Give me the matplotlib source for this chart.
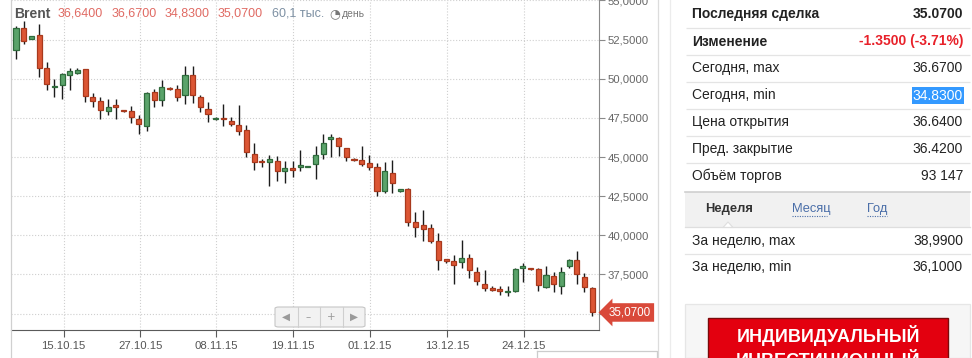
import matplotlib
matplotlib.use("Agg")
import matplotlib.pyplot as plt
from matplotlib.patches import Rectangle, FancyBboxPatch, Polygon
from matplotlib.lines import Line2D
from matplotlib.ticker import FuncFormatter

plt.rcParams['font.family'] = ['Liberation Sans', 'DejaVu Sans']

# ---------------- data ----------------
opens = [51.84, 53.26, 52.56, 52.78, 50.69, 49.45, 49.63, 50.26, 50.39, 50.62,
         48.83, 48.56, 47.96, 48.32, 47.98, 47.92, 47.41, 46.96, 49.13, 48.66,
         49.39, 49.35, 48.98, 50.24, 48.83, 48.05, 47.41, 47.47, 47.30, 47.03,
         46.71, 45.17, 44.76, 44.66, 44.73, 44.09, 44.28, 44.38, 44.34, 44.53,
         45.17, 46.13, 46.19, 45.56, 44.87, 44.79, 44.60, 44.34, 42.81, 43.98,
         42.83, 42.96, 40.83, 40.64, 40.46, 39.63, 38.46, 38.34, 38.27, 38.53,
         37.63, 36.87, 36.63, 36.57, 36.37, 36.42, 37.92, 37.92, 37.82, 36.71,
         37.38, 36.74, 38.04, 38.42, 37.33, 36.64]
highs = [53.39, 53.71, 52.76, 53.50, 51.05, 49.98, 50.34, 50.67, 50.67, 50.65,
         49.09, 48.83, 48.71, 48.71, 48.00, 48.24, 47.66, 49.13, 49.35, 49.92,
         49.45, 49.60, 50.83, 50.83, 48.98, 48.49, 47.58, 48.41, 47.56, 48.32,
         47.03, 45.88, 44.89, 45.15, 45.06, 44.76, 44.73, 45.45, 44.45, 45.70,
         46.47, 46.47, 46.30, 45.60, 44.92, 45.70, 45.11, 44.60, 44.68, 44.81,
         42.96, 43.02, 41.49, 41.61, 40.72, 40.12, 38.48, 38.74, 39.70, 38.80,
         37.95, 37.76, 36.78, 36.78, 36.74, 37.89, 38.21, 37.94, 37.89, 38.04,
         37.63, 37.95, 38.50, 38.99, 37.61, 36.67]
lows = [51.24, 52.20, 52.51, 50.13, 49.30, 48.85, 48.69, 49.30, 50.28, 48.53,
        48.21, 47.43, 47.66, 47.43, 47.90, 47.19, 46.45, 46.64, 48.18, 48.28,
        49.26, 48.58, 48.39, 48.47, 47.86, 47.26, 47.35, 47.00, 46.96, 46.42,
        45.02, 44.19, 44.38, 43.17, 43.49, 43.36, 43.74, 44.09, 44.34, 43.61,
        44.89, 45.02, 45.06, 44.76, 44.74, 44.44, 44.17, 42.51, 42.68, 42.72,
        42.79, 40.59, 39.87, 39.63, 39.52, 37.78, 38.21, 36.87, 37.89, 37.25,
        36.82, 36.46, 36.46, 36.17, 36.10, 36.38, 36.99, 37.77, 36.46, 36.63,
        36.39, 36.23, 37.89, 36.87, 36.36, 34.83]
closes = [53.22, 52.43, 52.71, 50.67, 49.68, 49.54, 50.28, 50.48, 50.56, 48.92,
          48.60, 47.98, 48.18, 48.18, 47.92, 47.54, 47.09, 49.09, 48.66, 49.45,
          49.33, 48.81, 50.24, 48.98, 48.18, 47.73, 47.49, 47.41, 47.09, 46.64,
          45.30, 44.70, 44.68, 44.85, 44.09, 44.30, 44.19, 44.47, 44.42, 45.13,
          45.88, 46.26, 45.68, 44.98, 44.79, 44.57, 44.36, 42.81, 44.09, 43.32,
          42.94, 40.83, 40.55, 40.42, 39.65, 38.40, 38.37, 38.12, 38.53, 37.76,
          37.06, 36.65, 36.52, 36.42, 36.44, 37.85, 38.03, 37.83, 36.80, 37.46,
          36.87, 37.63, 38.42, 37.50, 36.71, 35.07]

date_labels = ['15.10.15', '27.10.15', '08.11.15', '19.11.15', '01.12.15', '13.12.15', '24.12.15']
date_index = [6.2, 16.2, 26.1, 36.1, 46.1, 56.1, 66.1]
price_ticks = [35.0, 37.5, 40.0, 42.5, 45.0, 47.5, 50.0, 52.5, 55.0]

header_name = 'Brent'
header_ohlc = ['36,6400', '36,6700', '34,8300', '35,0700']
header_volume = '60,1 тыс.'
header_period = 'день'
last_tag = '35,0700'

table_labels = ['Последняя сделка', 'Изменение', 'Сегодня, max', 'Сегодня, min',
                'Цена открытия', 'Пред. закрытие', 'Объём торгов']
table_values = ['35.0700', '-1.3500 (-3.71%)', '36.6700', '34.8300',
                '36.6400', '36.4200', '93 147']
tabs = ['Неделя', 'Месяц', 'Год']
week_labels = ['За неделю, max', 'За неделю, min']
week_values = ['38,9900', '36,1000']
banner_lines = ['ИНДИВИДУАЛЬНЫЙ', 'ИНВЕСТИЦИОННЫЙ']

# ---------------- figure ----------------
W, H = 972, 358
fig = plt.figure(figsize=(W / 100, H / 100), dpi=100)
fig.patch.set_facecolor('white')


def fx(x):
    return x / W


def fy(y):
    return 1 - y / H


ax = fig.add_axes([fx(10.7), fy(330), fx(599) - fx(10.7), fy(0) - fy(330)])
ax.set_xlim(-0.69, 75.9)
ax.set_ylim(33.95, 55.03)

green_f, green_e = '#5aa36a', '#2f6b3c'
red_f, red_e = '#dc5634', '#a8391d'

xs = list(range(len(opens)))
ax.vlines(xs, lows, highs, color='#1c1c1c', linewidth=1.0, zorder=2)
bottoms = [min(o, c) for o, c in zip(opens, closes)]
heights = [max(abs(c - o), 0.04) for o, c in zip(opens, closes)]
fcols = [green_f if c >= o else red_f for o, c in zip(opens, closes)]
ecols = [green_e if c >= o else red_e for o, c in zip(opens, closes)]
ax.bar(xs, heights, bottom=bottoms, width=0.66, color=fcols,
       edgecolor=ecols, linewidth=0.9, zorder=3)

for s in ['top', 'left']:
    ax.spines[s].set_visible(False)
ax.spines['bottom'].set_color('#5a5a5a')
ax.spines['right'].set_color('#8a8a8a')
ax.yaxis.tick_right()
ax.set_yticks(price_ticks)
# the lowest label is hidden under the last-price tag in the original
ax.yaxis.set_major_formatter(FuncFormatter(
    lambda v, p: '' if abs(v - 35.0) < 1e-9 else f'{v:.4f}'.replace('.', ',')))
ax.tick_params(axis='y', direction='out', length=4, width=0.8, color='#8a8a8a',
               labelcolor='#666666', labelsize=8.2, pad=2)
ax.set_xticks(date_index)
ax.set_xticklabels(date_labels)
ax.tick_params(axis='x', direction='out', length=5, width=0.8, color='#5a5a5a',
               labelcolor='#555555', labelsize=8.2, pad=3)
ax.grid(True, color='#cfcfcf', linestyle=':', linewidth=0.8, zorder=0)
ax.set_axisbelow(True)

ax.annotate(last_tag, xy=(1, closes[-1]), xycoords=('axes fraction', 'data'),
            xytext=(7, 0), textcoords='offset points', ha='left', va='center',
            color='white', fontsize=8.4, annotation_clip=False,
            bbox=dict(boxstyle='larrow,pad=0.28', fc='#d9493a', ec='none'))

# ---------------- header ----------------
hy = fy(14)
fig.text(fx(14), hy, header_name, fontsize=10, fontweight='bold', color='#555555', va='center')
for xpos, t in zip([58, 112, 165, 218], header_ohlc):
    fig.text(fx(xpos), hy, t, fontsize=9, color='#e06a63', va='center')
fig.text(fx(272), hy, header_volume, fontsize=9, color='#7d90a3', va='center')
fig.text(fx(329), hy, '\u25D4', fontsize=9, color='#777777', va='center', family=['DejaVu Sans'])
fig.text(fx(342), hy, header_period, fontsize=7.5, color='#777777', va='center')

# ---------------- navigation widget ----------------
fig.patches.append(FancyBboxPatch((fx(275), fy(327)), fx(90), 20 / H,
                                  boxstyle='round,pad=0,rounding_size=0.004',
                                  fc='#f2f2f2', ec='#c6c6c6', lw=0.8,
                                  transform=fig.transFigure, figure=fig, zorder=5))
for xd in [297.5, 320, 342.5]:
    fig.add_artist(Line2D([fx(xd), fx(xd)], [fy(327), fy(307)], color='#cfcfcf', lw=0.8, zorder=6))
for xc, sym in zip([286, 308.5, 331, 353.5], ['\u25C0', '\u2013', '+', '\u25B6']):
    fig.text(fx(xc), fy(317), sym, fontsize=7.5, color='#9a9a9a', ha='center', va='center',
             family=['DejaVu Sans'], zorder=7)

# ---------------- frame lines ----------------
fig.add_artist(Line2D([fx(10.7), fx(10.7)], [0, 1], color='#d0d0d0', lw=0.9))
fig.add_artist(Line2D([fx(658), fx(658)], [0, 1], color='#dcdcdc', lw=0.9))
fig.add_artist(Line2D([fx(670), fx(670)], [0, 1], color='#ececec', lw=0.9))
fig.add_artist(Line2D([fx(537), fx(657), fx(657)], [fy(351), fy(351), 0], color='#cccccc', lw=0.9))
fig.add_artist(Line2D([fx(537), fx(537)], [fy(351), 0], color='#cccccc', lw=0.9))

# ---------------- right table ----------------
row_y = [14, 41.5, 68.3, 95.5, 122.3, 149, 175.7]
sep_y = [27.5, 54.8, 82, 109, 135.8, 162.5]
for i, (lab, val) in enumerate(zip(table_labels, table_values)):
    bold = 'bold' if i < 2 else 'normal'
    fig.text(fx(692), fy(row_y[i]), lab, fontsize=10, fontweight=bold, color='#222222',
             va='center', ha='left')
for i, val in enumerate(table_values):
    bold = 'bold' if i < 2 else 'normal'
    col = '#e8212a' if i == 1 else '#222222'
    if i == 3:
        fig.text(fx(963), fy(row_y[i]), val, fontsize=10, color='white', va='center', ha='right',
                 bbox=dict(boxstyle='square,pad=0.08', fc='#3399ff', ec='none'))
    else:
        fig.text(fx(963), fy(row_y[i]), val, fontsize=10, fontweight=bold, color=col,
                 va='center', ha='right')
for sy in sep_y:
    fig.add_artist(Line2D([fx(686), fx(970)], [fy(sy), fy(sy)], color='#e4e4e4', lw=0.9,
                          solid_capstyle='butt'))

# tabs band
fig.patches.append(Rectangle((fx(685), fy(227)), fx(285), 35 / H, fc='#f1f1f1', ec='none',
                             transform=fig.transFigure, figure=fig))
fig.add_artist(Line2D([fx(685), fx(970)], [fy(192), fy(192)], color='#cfcfcf', lw=1.2))
fig.add_artist(Line2D([fx(685), fx(970)], [fy(227), fy(227)], color='#dedede', lw=0.9))
fig.patches.append(Polygon([(fx(723), fy(227.5)), (fx(733), fy(227.5)), (fx(728), fy(222))],
                           closed=True, fc='white', ec='#dedede', lw=0.8,
                           transform=fig.transFigure, figure=fig))
fig.text(fx(705), fy(209), tabs[0], fontsize=9.3, fontweight='bold', color='#333333', va='center')
for xpos, t, w in zip([792, 867], tabs[1:], [35, 20]):
    fig.text(fx(xpos), fy(209), t, fontsize=9.3, color='#4a6ea8', va='center')
    fig.add_artist(Line2D([fx(xpos), fx(xpos + w)], [fy(216), fy(216)], color='#4a6ea8',
                          lw=0.8, linestyle=(0, (1, 1.2))))

for yy, lab, val in zip([240.7, 267.3], week_labels, week_values):
    fig.text(fx(692), fy(yy), lab, fontsize=10, color='#222222', va='center')
    fig.text(fx(963), fy(yy), val, fontsize=10, color='#222222', va='center', ha='right')
fig.add_artist(Line2D([fx(685), fx(970)], [fy(253.5), fy(253.5)], color='#e4e4e4', lw=0.9))

# banner box
fig.patches.append(Rectangle((fx(685), 0), fx(285), 54 / H, fc='#f6f6f6', ec='#e6e6e6', lw=0.9,
                             transform=fig.transFigure, figure=fig))
fig.patches.append(Rectangle((fx(708), -0.01), fx(240), 40 / H + 0.01, fc='#e3000f', ec='#7a0a0a',
                             lw=1.0, transform=fig.transFigure, figure=fig))
fig.text(fx(828), fy(335), banner_lines[0], fontsize=13, fontweight='bold', color='white',
         ha='center', va='center')
fig.text(fx(828), fy(359), banner_lines[1], fontsize=13, fontweight='bold', color='white',
         ha='center', va='center')

fig.savefig('out.png', dpi=100, facecolor='white')
